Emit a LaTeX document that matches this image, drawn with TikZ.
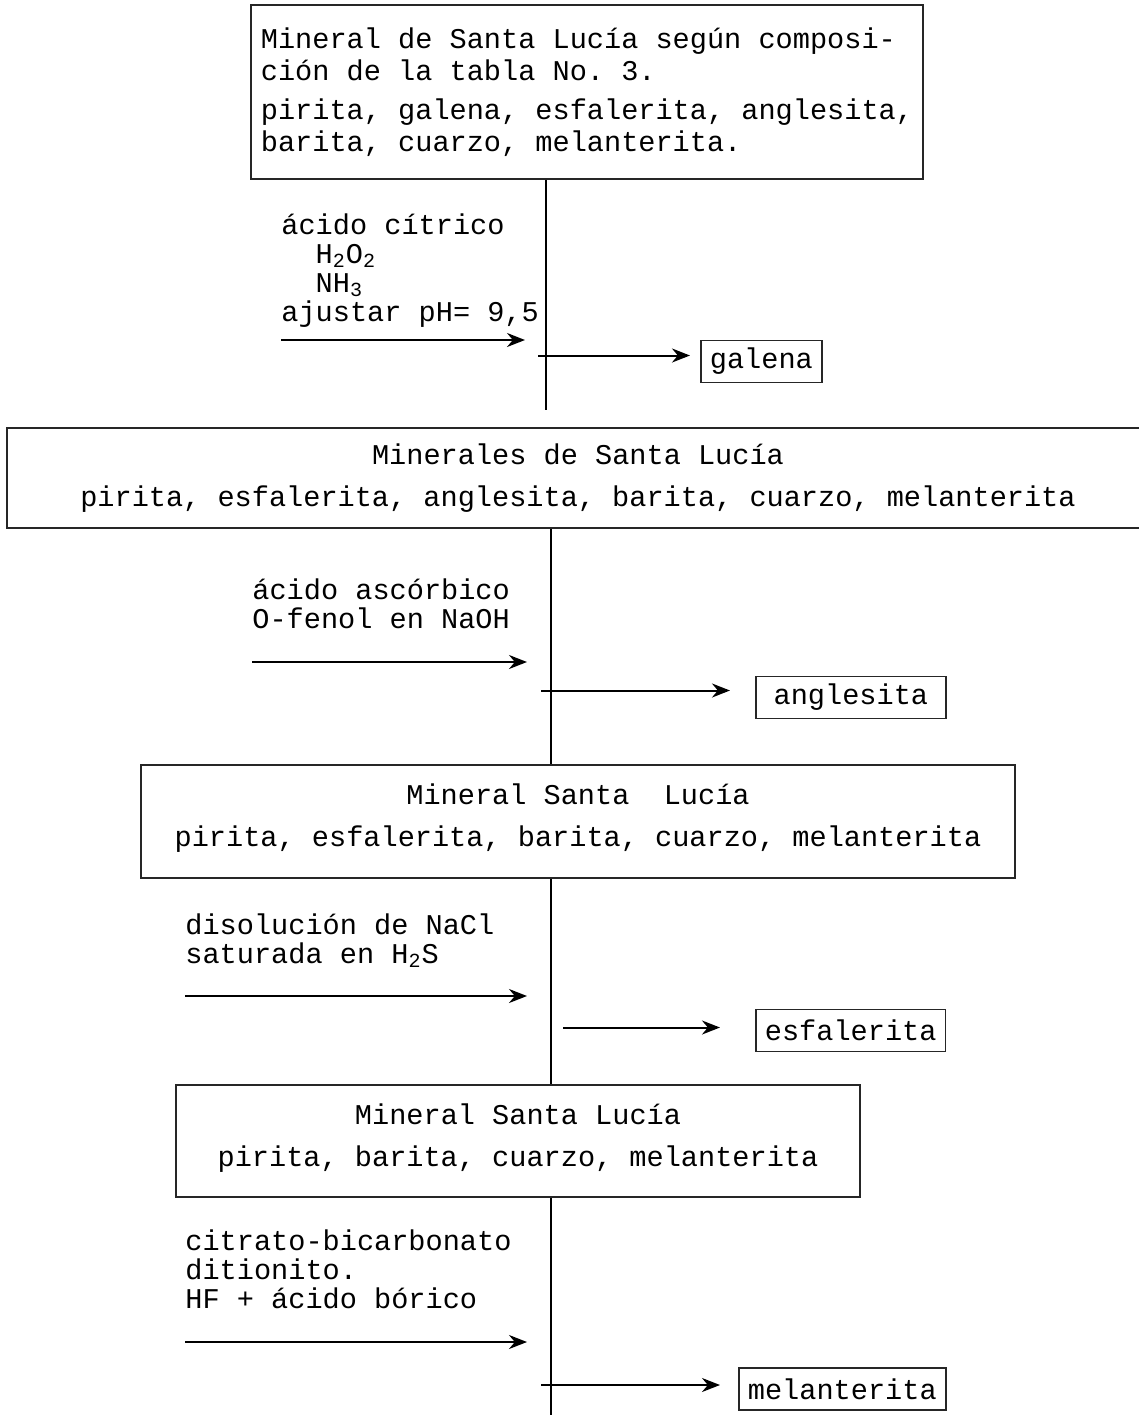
\documentclass[tikz,border=0pt]{standalone}
\usepackage{fontspec}
\setmonofont{Liberation Mono}
\usetikzlibrary{arrows.meta, positioning}

\begin{document}
\frenchspacing
\begin{tikzpicture}[x=0.5pt, y=-0.5pt,
  minbox/.style={rectangle, draw=black!85, line width=0.9pt, inner xsep=5pt, inner ysep=0pt,
    align=center, font=\ttfamily\fontsize{14.3}{16}\selectfont},
  prodbox/.style={rectangle, draw=black!85, line width=0.9pt, anchor=west, inner xsep=4.5pt,
    minimum height=21pt, font=\ttfamily\fontsize{14.3}{16}\selectfont},
  reag/.style={anchor=north west, inner sep=0pt, align=left, font=\ttfamily\fontsize{14.3}{14.6}\selectfont},
  arr/.style={-{Stealth[length=9pt, width=7pt]}, line width=1pt},
  spine/.style={line width=0.9pt}
]
  \useasboundingbox (0,0) rectangle (1139,1415);

  % mineral boxes
  \node[minbox, align=left, minimum width=335pt, minimum height=87pt] (src) at (587,92)
    {Mineral de Santa Lucía según composi-\\ción de la tabla No. 3.\\[3.5pt]
     pirita, galena, esfalerita, anglesita,\\barita, cuarzo, melanterita.};
  \node[minbox, minimum width=571pt, minimum height=50pt] (min1) at (578,478)
    {Minerales de Santa Lucía\\[5pt]pirita, esfalerita, anglesita, barita, cuarzo, melanterita};
  \node[minbox, minimum width=437pt, minimum height=56.5pt] (min2) at (578,821.5)
    {Mineral Santa\ \ Lucía\\[5pt]pirita, esfalerita, barita, cuarzo, melanterita\\[-10pt]\mbox{}};
  \node[minbox, minimum width=342pt, minimum height=56pt] (min3) at (518,1141)
    {Mineral Santa Lucía\\[5pt]pirita, barita, cuarzo, melanterita\\[-10pt]\mbox{}};

  % products
  \node[prodbox] (galena) at (700,361.5) {galena};
  \node[prodbox, minimum width=95pt, align=left] (angl) at (755,697.5) {anglesita\hfill};
  \node[prodbox] (esfal) at (755,1030.5) {esfalerita};
  \node[prodbox] (melan) at (738,1389) {melanterita};

  % reagents
  \node[reag] (r1) at (281,213)
    {ácido cítrico\\\ \ H\textsubscript{2}O\textsubscript{2}\\\ \ NH\textsubscript{3}\\ajustar pH= 9,5};
  \node[reag] (r2) at (252,578) {ácido ascórbico\\O-fenol en NaOH};
  \node[reag] (r3) at (185,913) {disolución de NaCl\\saturada en H\textsubscript{2}S};
  \node[reag] (r4) at (185,1229) {citrato-bicarbonato\\ditionito.\\HF + ácido bórico};

  % spine ends and reagent inlets
  \coordinate (e1) at (546,410);
  \coordinate (e4) at (551,1415);
  \coordinate (in1) at (281,340);  \coordinate (to1) at (525,340);
  \coordinate (in2) at (252,662);  \coordinate (to2) at (527,662);
  \coordinate (in3) at (185,996);  \coordinate (to3) at (527,996);
  \coordinate (in4) at (185,1342); \coordinate (to4) at (527,1342);

  \draw[spine] (e1 |- src.south) -- (e1);
  \draw[spine] (e4 |- min1.south) -- (e4 |- min2.north);
  \draw[spine] (e4 |- min2.south) -- (e4 |- min3.north);
  \draw[spine] (e4 |- min3.south) -- (e4);

  \draw[arr] (in1) -- (to1);
  \draw[arr] (in2) -- (to2);
  \draw[arr] (in3) -- (to3);
  \draw[arr] (in4) -- (to4);

  \draw[arr] ([xshift=-4pt, yshift=3pt]e1 |- galena.west) -- ([xshift=-5pt, yshift=3pt]galena.west);
  \draw[arr] ([xshift=-5pt, yshift=3.5pt]e4 |- angl.west) -- ([xshift=-12.5pt, yshift=3.5pt]angl.west);
  \draw[arr] ([xshift=6pt, yshift=1.5pt]e4 |- esfal.west) -- ([xshift=-17.5pt, yshift=1.5pt]esfal.west);
  \draw[arr] ([xshift=-5pt, yshift=2pt]e4 |- melan.west) -- ([xshift=-9pt, yshift=2pt]melan.west);
\end{tikzpicture}
\end{document}
